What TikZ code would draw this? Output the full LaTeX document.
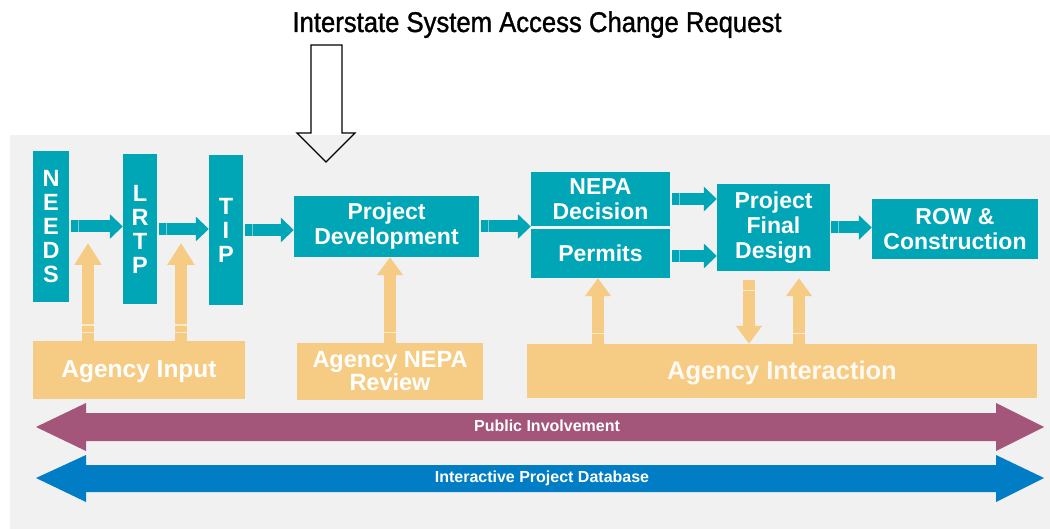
\documentclass[tikz,border=0pt]{standalone}
\usepackage{fontspec}
\setmainfont{Liberation Sans}
\newfontfamily\narrowfont[FakeStretch=0.9,FakeBold=1.2]{Liberation Sans}
\usetikzlibrary{arrows.meta,positioning}
\definecolor{tealbox}{RGB}{0,166,181}
\definecolor{tealseam}{RGB}{120,205,214}
\definecolor{sand}{RGB}{246,204,132}
\definecolor{sandseam}{RGB}{252,234,200}
\definecolor{plum}{RGB}{163,86,122}
\definecolor{azure}{RGB}{0,125,196}
\definecolor{panel}{RGB}{241,241,241}
\tikzset{
	x=1pt, y=-1pt,
	stage/.style={fill=tealbox, text=white, inner sep=0pt, align=center,
		font=\bfseries\fontsize{23}{25}\selectfont},
	letters/.style={stage, font=\bfseries\fontsize{23.5}{24}\selectfont},
	agency/.style={fill=sand, text=white, inner sep=0pt, align=center,
		font=\bfseries\fontsize{24.5}{22}\selectfont},
	flow/.style={draw=tealbox, line width=12pt, -{Triangle[length=13pt,width=24pt]},
		postaction={draw=tealseam, line width=12pt, -,
			dash pattern=on 0pt off 7pt on 1.2pt off 2000pt}},
	feed/.style={draw=sand, line width=12pt, -{Triangle[length=18pt,width=25pt]},
		postaction={draw=sandseam, line width=12pt, -,
			dash pattern=on 0pt off 10pt on 1.2pt off 2000pt}},
	feedtwo/.style={draw=sand, line width=12pt, -{Triangle[length=22pt,width=26pt]},
		postaction={draw=sandseam, line width=12pt, -,
			dash pattern=on 0pt off 8pt on 1.2pt off 6pt on 1.2pt off 2000pt}},
	banner/.style={text=white, font=\bfseries\fontsize{16}{16}\selectfont},
}

\begin{document}
\begin{tikzpicture}
	\useasboundingbox (0,0) rectangle (1050,529);
	\fill[panel] (10,135) rectangle (1050,529);

	\node[anchor=base, font=\narrowfont\fontsize{28.5}{28}\selectfont] (request) at (537,32)
		{Interstate System Access Change Request};
	\draw[line width=1.3pt, line join=miter] (311,45) -- (342,45) -- (342,133) -- (355,133)
		-- (326,162) -- (297,133) -- (311,133) -- cycle;

	% planning stages
	\node[letters, minimum width=36, minimum height=151] (needs) at (51,226.5) {N\\E\\E\\D\\S};
	\node[letters, minimum width=34, minimum height=150] (lrtp) at (140,229) {L\\R\\T\\P};
	\node[letters, minimum width=34, minimum height=150] (tip) at (226,230) {T\\I\\P};
	\node[stage, minimum width=185, minimum height=61] (projdev) at (386.5,226.5) {Project\\Development};
	\node[stage, minimum width=139, minimum height=54] (nepa) at (600.5,199) {NEPA\\Decision};
	\node[stage, minimum width=139, minimum height=49] (permits) at (600.5,253.5) {Permits};
	\node[stage, minimum width=113, minimum height=87] (final) at (773.5,227.5) {Project\\Final\\Design};
	\node[stage, minimum width=166, minimum height=60] (row) at (955,229) {ROW \&\\Construction};

	% agencies
	\node[agency, minimum width=212, minimum height=58, text depth=2pt] (input) at (139,370) {Agency Input};
	\node[agency, minimum width=186, minimum height=57, font=\bfseries\fontsize{23.5}{22}\selectfont]
		(review) at (390,371.5) {Agency NEPA\\Review};
	\node[agency, minimum width=510, minimum height=54, text depth=2pt, text=white!90!sand,
		font=\bfseries\fontsize{25.5}{25}\selectfont] (interact) at (782,371) {Agency Interaction};

	\draw[flow] ([xshift=2]needs.east) -- (needs.east -| lrtp.west);
	\draw[flow] ([xshift=2]lrtp.east) -- (lrtp.east -| tip.west);
	\draw[flow] ([xshift=2]tip.east) -- (tip.east -| projdev.west);
	\draw[flow] ([xshift=2]projdev.east) -- (projdev.east -| nepa.west);
	\draw[flow] ([xshift=2]nepa.east) -- (nepa.east -| final.west);
	\draw[flow] ([xshift=2,yshift=-2.5]permits.east) -- ([yshift=-2.5]permits.east -| final.west);
	\draw[flow] ([xshift=1]final.east) -- (final.east -| row.west);

	\coordinate (in1) at (88,243);
	\coordinate (in2) at (181,243);
	\draw[feedtwo] (input.north -| in1) -- (in1);
	\draw[feedtwo] (input.north -| in2) -- (in2);
	\draw[feed] (review.north) -- (review.north |- projdev.south);
	\draw[feed] ([xshift=-2.5]interact.north -| permits.south) -- ([xshift=-2.5]permits.south);
	\draw[feed] ([xshift=-24.5,yshift=-9]final.south) -- ([xshift=-24.5]interact.north -| final.south);
	\draw[feed] ([xshift=25.5]interact.north -| final.south) -- ([xshift=25.5,yshift=-7]final.south);

	% two-way banners
	\fill[plum] (36,427) -- (86,403) -- (86,413) -- (996,413) -- (996,403) -- (1044,427)
		-- (996,451) -- (996,441) -- (86,441) -- (86,451) -- cycle;
	\node[banner] (public) at (547,426) {Public Involvement};
	\fill[azure] (36,478) -- (86,455) -- (86,465) -- (996,465) -- (996,455) -- (1044,478)
		-- (996,502) -- (996,492) -- (86,492) -- (86,502) -- cycle;
	\node[banner] (database) at (542,478) {Interactive Project Database};
\end{tikzpicture}
\end{document}
